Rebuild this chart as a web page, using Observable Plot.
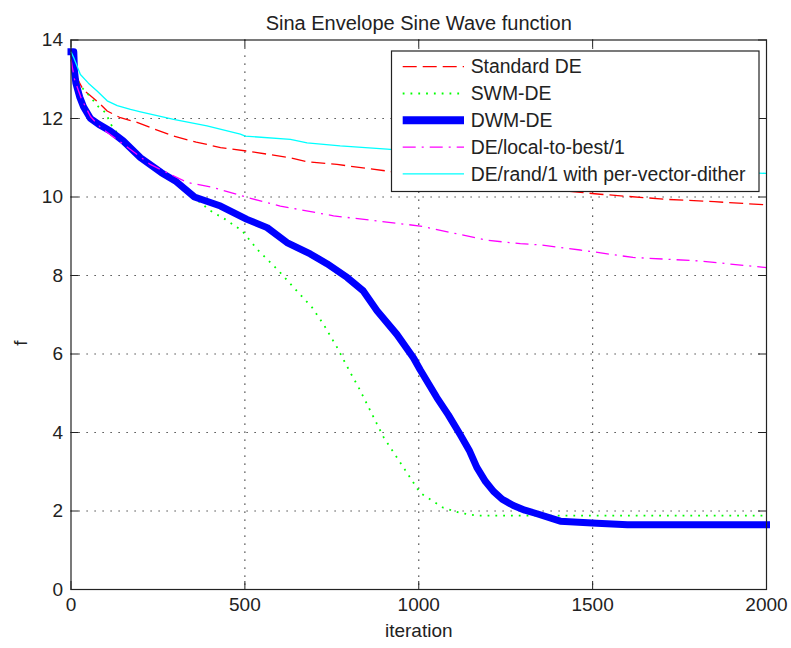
<!DOCTYPE html>
<html>
<head>
<meta charset="utf-8">
<script src="https://cdn.jsdelivr.net/npm/d3@7"></script>
<script src="https://cdn.jsdelivr.net/npm/@observablehq/plot@0.6"></script>
<style>
  body { margin: 0; background: #fff; }
  #chart { width: 791px; height: 648px; }
</style>
</head>
<body>
<div id="chart"></div>
<script>
// ---- texts & ticks ----
const titleText = "Sina Envelope Sine Wave function";
const xLabel = "iteration";
const yLabel = "f";
const xTicks = [0, 500, 1000, 1500, 2000];
const yTicks = [0, 2, 4, 6, 8, 10, 12, 14];

// ---- series names / colours ----
const seriesNames = ["Standard DE", "SWM-DE", "DWM-DE", "DE/local-to-best/1", "DE/rand/1 with per-vector-dither"];
const seriesColors = ["#ff0000", "#00ff00", "#0000ff", "#ff00ff", "#00ffff"];

// ---- series values (iteration, f) ----
const standardX = [0, 10, 25, 36, 51, 80, 104, 142, 190, 228, 295, 360, 430, 506, 631, 679, 765, 918, 1000, 1150, 1300, 1522, 1713, 1850, 2000];
const standardY = [13.6, 13.2, 12.9, 12.72, 12.62, 12.4, 12.19, 12.02, 11.9, 11.77, 11.55, 11.4, 11.26, 11.17, 11.0, 10.9, 10.83, 10.65, 10.55, 10.4, 10.25, 10.07, 9.94, 9.88, 9.8];

const swmX = [0, 10, 30, 56, 75, 99, 118, 142, 170, 200, 250, 300, 353, 401, 444, 492, 535, 597, 650, 693, 726, 765, 803, 827, 899, 956, 1004, 1071, 1119, 1167, 2000];
const swmY = [13.5, 13.1, 12.8, 12.55, 12.33, 12.15, 11.8, 11.53, 11.25, 11.0, 10.7, 10.4, 9.99, 9.65, 9.43, 9.14, 8.67, 8.12, 7.6, 7.19, 6.76, 6.17, 5.53, 5.15, 3.88, 3.11, 2.46, 2.08, 1.95, 1.88, 1.88];

const dwmX = [0, 8, 10, 14, 25, 36, 56, 80, 113, 150, 200, 260, 300, 355, 430, 506, 564, 621, 688, 736, 794, 840, 880, 937, 985, 1004, 1052, 1085, 1119, 1145, 1167, 1192, 1215, 1240, 1272, 1305, 1340, 1407, 1512, 1600, 2000];
const dwmY = [13.7, 13.7, 13.2, 12.9, 12.55, 12.3, 12.0, 11.85, 11.68, 11.43, 11.0, 10.62, 10.41, 10.0, 9.77, 9.43, 9.22, 8.84, 8.55, 8.3, 7.95, 7.61, 7.1, 6.5, 5.9, 5.6, 4.89, 4.45, 3.95, 3.55, 3.11, 2.75, 2.5, 2.3, 2.14, 2.02, 1.93, 1.74, 1.69, 1.65, 1.65];

const localX = [0, 10, 30, 56, 85, 150, 228, 334, 410, 506, 602, 755, 1004, 1196, 1292, 1349, 1464, 1616, 1809, 2000];
const localY = [13.5, 13.0, 12.5, 12.05, 11.77, 11.35, 10.83, 10.37, 10.24, 9.99, 9.77, 9.52, 9.26, 8.9, 8.81, 8.78, 8.65, 8.46, 8.37, 8.2];

const randX = [0, 8, 27, 50, 75, 104, 133, 171, 200, 295, 391, 487, 501, 631, 679, 774, 909, 1000, 1250, 1500, 1750, 2000];
const randY = [13.7, 13.55, 13.12, 12.9, 12.7, 12.45, 12.33, 12.23, 12.17, 11.98, 11.81, 11.6, 11.55, 11.47, 11.38, 11.3, 11.22, 11.15, 10.98, 10.82, 10.7, 10.6];

// ---- build table ----
const seriesXY = [[standardX, standardY], [swmX, swmY], [dwmX, dwmY], [localX, localY], [randX, randY]];
const rows = [];
seriesXY.forEach(([xs, ys], i) => xs.forEach((x, j) => rows.push({series: seriesNames[i], iteration: x, f: ys[j]})));

// ---- styles ----
const lineWidths = [1.3, 1.8, 7, 1.3, 1.3];
const lineDashes = ["14,6", "1.8,6", null, "13,6,2,6", null];

const FONT = "Arial, 'Liberation Sans', Helvetica, sans-serif";
const FS = 19;
const mL = 70.5, mR = 25, mT = 39.5, mB = 59, W = 791, H = 648;
const fw = W - mL - mR, fh = H - mT - mB;
const TICK = 8;

const lineMarks = seriesNames.map((name, i) => Plot.line(rows.filter(d => d.series === name), {
  x: "iteration", y: "f",
  stroke: seriesColors[i],
  strokeWidth: lineWidths[i],
  strokeDasharray: lineDashes[i] ?? undefined,
  strokeLinejoin: "round",
  strokeLinecap: i === 2 ? "square" : "butt"
}));

const svg = Plot.plot({
  width: W, height: H,
  marginLeft: mL, marginRight: mR, marginTop: mT, marginBottom: mB,
  style: {fontFamily: FONT, background: "#fff", color: "#222"},
  x: {domain: [0, 2000]},
  y: {domain: [0, 14]},
  marks: [
    Plot.ruleX(xTicks.slice(1, -1), {stroke: "#222", strokeWidth: 1.2, strokeDasharray: "1.2,6.8"}),
    Plot.ruleY(yTicks.slice(1, -1), {stroke: "#222", strokeWidth: 1.2, strokeDasharray: "1.2,6.8"}),
    ...lineMarks,
    Plot.tickX(xTicks, {x: d => d, stroke: "#222", insetTop: fh - TICK}),
    Plot.tickX(xTicks, {x: d => d, stroke: "#222", insetBottom: fh - TICK}),
    Plot.tickY(yTicks, {y: d => d, stroke: "#222", insetRight: fw - TICK}),
    Plot.tickY(yTicks, {y: d => d, stroke: "#222", insetLeft: fw - TICK}),
    Plot.frame({stroke: "#222", strokeWidth: 1.2}),
    Plot.axisX({ticks: xTicks, tickSize: 0, tickPadding: 8, fontSize: FS, label: null, tickFormat: d => String(d)}),
    Plot.axisY({ticks: yTicks, tickSize: 0, tickPadding: 8, fontSize: FS, label: null, tickFormat: d => String(d)}),
    Plot.text([titleText], {text: d => d, frameAnchor: "top", dy: -24.5, fontSize: 20, fill: "#222"}),
    Plot.text([xLabel], {text: d => d, frameAnchor: "bottom", dy: 47, fontSize: FS, fill: "#222"}),
    Plot.text([yLabel], {text: d => d, frameAnchor: "left", dx: -50.5, dy: 31, rotate: -90, fontSize: FS, fill: "#222"})
  ]
});

// ---- legend (drawn on the same SVG) ----
const lg = d3.select(svg).append("g")
  .attr("font-family", FONT).attr("font-size", 19.4).attr("text-anchor", "start")
  .style("font-size", "19.4px").style("text-anchor", "start");
lg.append("rect").attr("x", 391.5).attr("y", 51).attr("width", 367.5).attr("height", 140.5)
  .attr("fill", "#fff").attr("stroke", "#222").attr("stroke-width", 1.2);
seriesNames.forEach((name, i) => {
  const y = 66.7 + i * 26.8;
  const ln = lg.append("line").attr("x1", 402.7).attr("x2", 464).attr("y1", y).attr("y2", y)
    .attr("stroke", seriesColors[i]).attr("stroke-width", lineWidths[i] === 7 ? 8 : lineWidths[i]);
  if (lineDashes[i]) ln.attr("stroke-dasharray", lineDashes[i]);
  lg.append("text").attr("x", 470.7).attr("y", y).attr("dy", "0.35em")
    .attr("fill", "#222").attr("text-anchor", "start").text(name);
});

document.getElementById("chart").appendChild(svg);
</script>
</body>
</html>
